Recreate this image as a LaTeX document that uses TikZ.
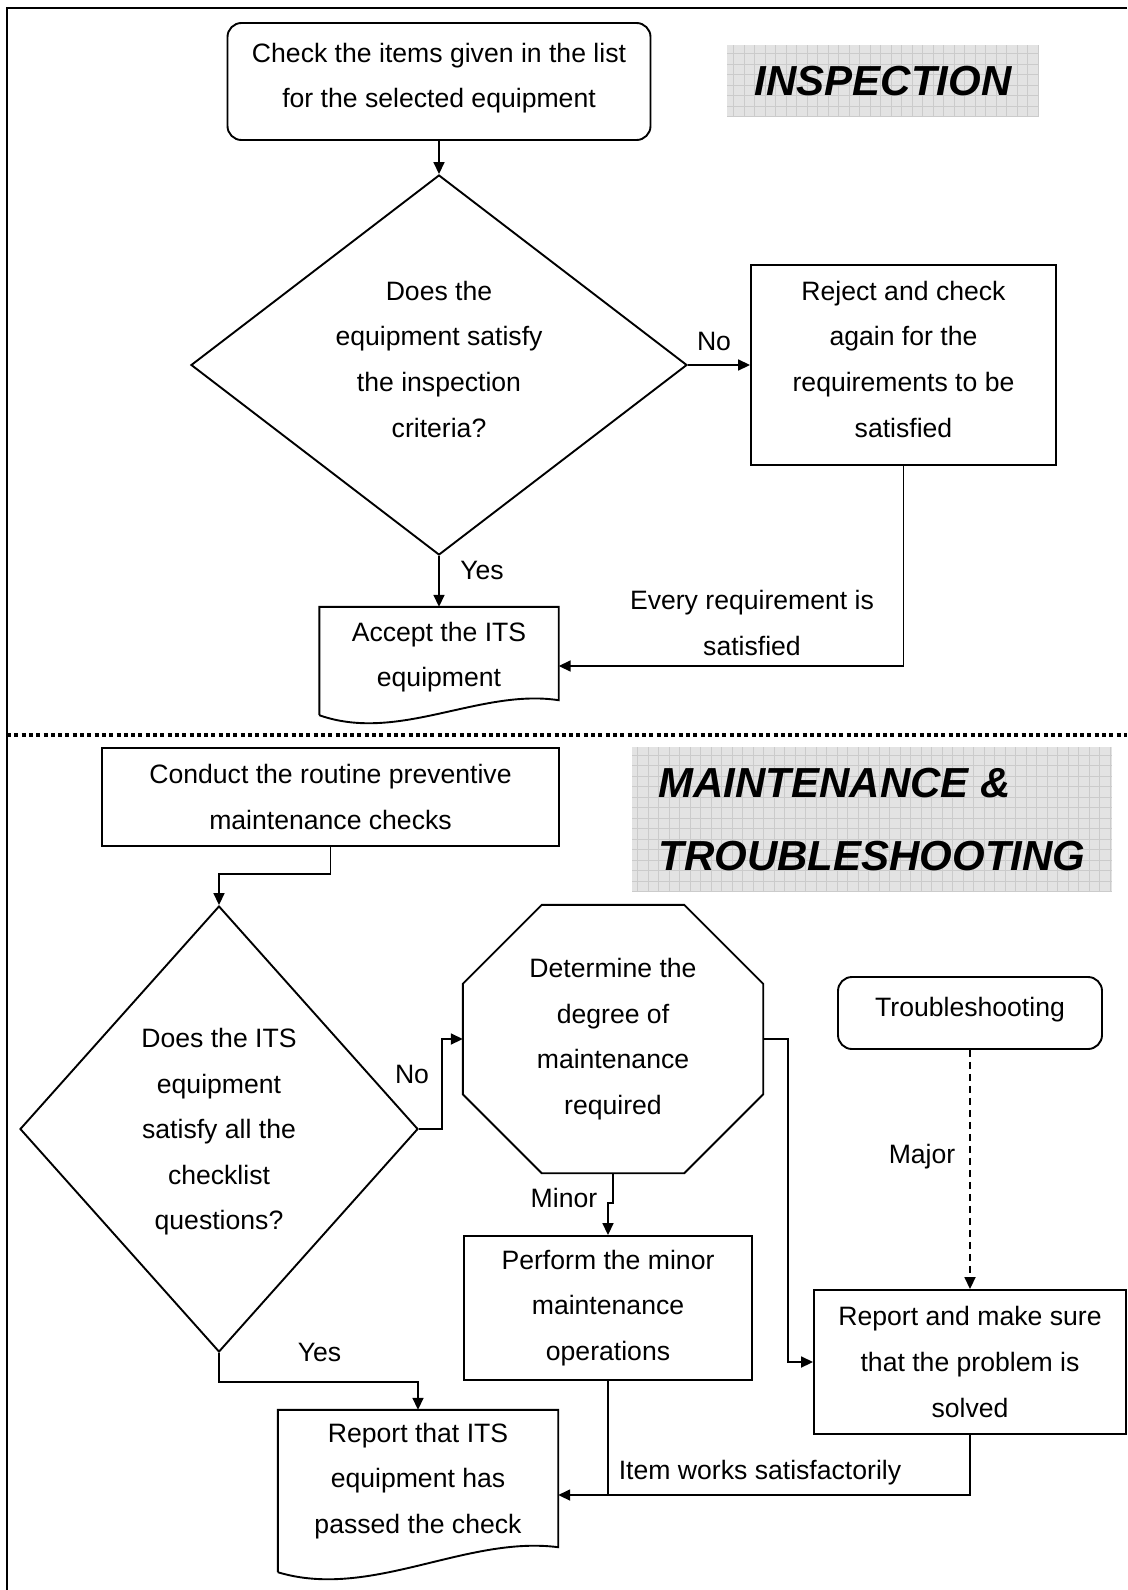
\documentclass[tikz,border=0pt]{standalone}
\usepackage{fontspec}
\setmainfont{Liberation Sans}
\usepackage{xcolor}
\usetikzlibrary{
    arrows.meta,
    shapes,
    calc
}
\definecolor{gridfill}{HTML}{E3E3E3}
\definecolor{gridline}{HTML}{CBCBCB}

% page-like outline of a document box: wavy bottom edge
\newcommand{\docwave}[3]{%
    \draw [line width=1.9pt] ($(#1.south west)+(0, #2)$) -- (#1.north west) -- (#1.north east) -- ($(#1.south east)+(0, -#3)$)
        .. controls ($(#1.south east)!.33!(#1.south west)+(0, -#3-12)$) and ($(#1.south west)!.33!(#1.south east)+(0, #2+28)$) .. ($(#1.south west)+(0, #2)$);
}
% octagon round a node
\newcommand{\octobox}[2]{%
    \draw [line width=1.9pt] ($(#1.north west)+(#2, 0)$) -- ($(#1.north east)+(-#2, 0)$) -- ($(#1.north east)+(0, #2)$)
        -- ($(#1.south east)+(0, -#2)$) -- ($(#1.south east)+(-#2, 0)$) -- ($(#1.south west)+(#2, 0)$)
        -- ($(#1.south west)+(0, -#2)$) -- ($(#1.north west)+(0, #2)$) -- cycle;
}

\begin{document}
\begin{tikzpicture}[x=1pt, y=-1pt,
        every node/.style={font=\fontsize{26.6}{45.6}\selectfont, align=center},
        box/.style={draw, line width=1.9pt, inner sep=0pt},
        rbox/.style={box, rounded corners=14pt},
        dia/.style={diamond, draw, line width=1.9pt, inner sep=0pt},
        plain/.style={rectangle, inner sep=0pt},
        lift/.style={text depth=12pt},
        title/.style={fill=gridfill, inner sep=0pt, font=\fontsize{42}{73}\selectfont\bfseries\itshape,
            path picture={\draw [gridline, line width=0.6pt, step=10.5pt] (path picture bounding box.south west) grid (path picture bounding box.north east);}},
        arr/.style={-{Triangle[length=12pt, width=11pt]}, line width=1.7pt}]
                \useasboundingbox (0, 0) rectangle (1127, 1590);
                \draw [line width=2.4pt] (1127, 8) -- (7, 8) -- (7, 1590);

                % inspection
                \node [rbox, lift, minimum width=423, minimum height=117] (check) at (439, 81.5) {Check the items given in the list\\for the selected equipment};
                \node [title, minimum width=312, minimum height=72] (insp) at (883, 81) {INSPECTION};
                \node [dia, lift, minimum width=496, minimum height=380] (d1) at (439, 365) {Does the\\equipment satisfy\\the inspection\\criteria?};
                \node [box, lift, minimum width=305, minimum height=200] (rej) at (903.5, 365) {Reject and check\\again for the\\requirements to be\\satisfied};
                \node [plain, minimum width=239, minimum height=100] (acc) at (439, 657) {Accept the ITS\\equipment};
                \docwave{acc}{8}{7}

                \draw [arr] (check) -- (d1);
                \draw [arr] (d1.east) -- (rej.west);
                \draw [arr] (d1.south) -- (acc.north);
                \draw [arr] (rej.south) |- ([yshift=-9pt]acc.east);
                \node (lno1) at (714, 341) {No};
                \node (lyes1) at (482, 570) {Yes};
                \node (lall) at (752, 623) {Every requirement is\\satisfied};

                \draw [line width=4pt, dash pattern=on 4pt off 3.3pt] (7, 735) -- (1127, 735);

                % maintenance & troubleshooting
                \node [box, minimum width=457, minimum height=98] (cond) at (330.5, 797) {Conduct the routine preventive\\maintenance checks};
                \node [title, align=left, minimum width=480, minimum height=145] (mnt) at (872, 819.5) {MAINTENANCE \&\\TROUBLESHOOTING};
                \node [dia, text depth=0pt, minimum width=398, minimum height=446] (d2) at (219, 1129) {Does the ITS\\equipment\\satisfy all the\\checklist\\questions?};
                \node [plain, minimum width=300, minimum height=268] (deg) at (613, 1039) {Determine the\\degree of\\maintenance\\required};
                \octobox{deg}{79}
                \node [rbox, lift, minimum width=264, minimum height=72] (trb) at (970, 1013) {Troubleshooting};
                \node [box, minimum width=288, minimum height=144] (minor) at (608, 1308) {Perform the minor\\maintenance\\operations};
                \node [box, minimum width=312, minimum height=144] (rep) at (970, 1362) {Report and make sure\\that the problem is\\solved};
                \node [plain, minimum width=280, minimum height=142] (pass) at (418, 1481) {Report that ITS\\equipment has\\passed the check};
                \docwave{pass}{20}{5}
                \coordinate (join) at (608, 1495);

                \draw [arr] (cond.south) -- ++(0, 27) -| (d2.north);
                \draw [arr] (d2.east) -- ++(23, 0) |- (deg.west);
                \draw [arr] (deg.south) -- ++(0, 30) -| (minor.north);
                \draw [arr] (deg.east) -- ++(25, 0) |- (rep.west);
                \draw [arr, dash pattern=on 7pt off 5pt] (trb) -- (rep);
                \draw [arr] (d2.south) -- ++(0, 29) -| (pass.north);
                \draw [line width=1.7pt] (minor.south) -- (join);
                \draw [line width=1.7pt] (rep.south) |- (join);
                \draw [arr] (join) -- (join -| pass.east);
                \node (lno2) at (412, 1074) {No};
                \node (lminor) at (564, 1198) {Minor};
                \node (lmajor) at (922, 1157) {Major};
                \node (lyes2) at (319.5, 1352) {Yes};
                \node (lok) at (760, 1473) {Item works satisfactorily};
\end{tikzpicture}
\end{document}
